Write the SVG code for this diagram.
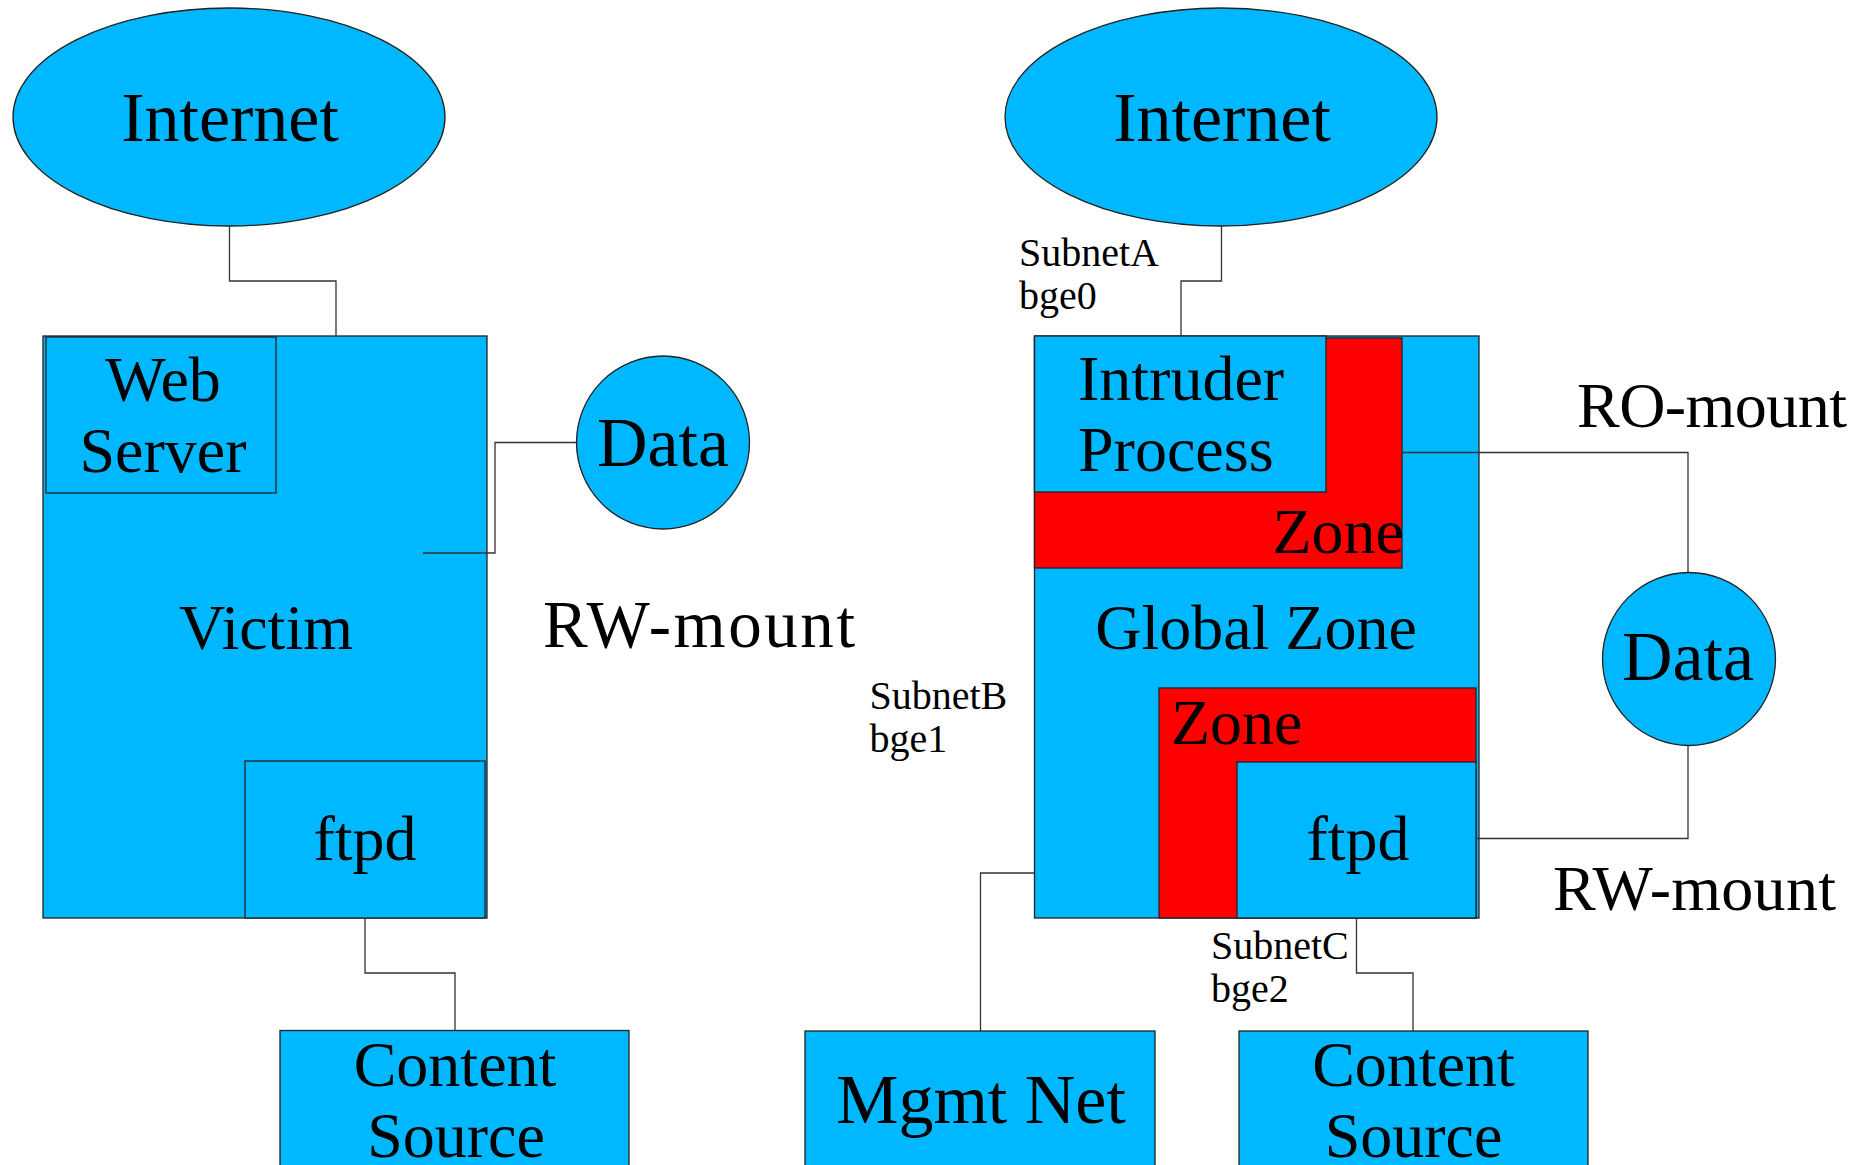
<svg xmlns="http://www.w3.org/2000/svg" width="1861" height="1165" viewBox="0 0 1861 1165">
<style>
.b{fill:#00b8ff;stroke:#222;stroke-width:1.3}
.r{fill:#ff0000;stroke:#222;stroke-width:1.3}
.c{fill:none;stroke:#333;stroke-width:1.3}
text{font-family:"Liberation Serif","Times New Roman",serif;fill:#000}
.L{font-size:70px}
.M{font-size:64px}
.S{font-size:40px}
.m{text-anchor:middle}
</style>
<rect width="1861" height="1165" fill="#fff"/>
<g id="internet-left"><ellipse class="b" cx="229" cy="117" rx="216" ry="109"/><text class="L m" x="230" y="141">Internet</text></g>
<g id="victim"><rect class="b" x="43" y="336" width="444" height="582"/><text class="M m" x="266" y="649">Victim</text></g>
<g id="webserver"><rect class="b" x="46" y="337" width="230" height="156"/><text class="M m" x="163" y="401">Web</text><text class="M m" x="163" y="472">Server</text></g>
<g id="ftpd-left"><rect class="b" x="245" y="761" width="240" height="157"/><text class="M m" x="365" y="860">ftpd</text></g>
<g id="data-left"><circle class="b" cx="663" cy="442.5" r="86.5"/><text class="L m" x="663" y="466">Data</text></g>
<g id="rw-left"><text x="543" y="647" font-size="67" textLength="312" lengthAdjust="spacing">RW-mount</text></g>
<g id="content-left"><rect class="b" x="280" y="1030.5" width="349" height="150"/><text class="M m" x="455" y="1086">Content</text><text class="M m" x="456" y="1157">Source</text></g>
<g id="internet-right"><ellipse class="b" cx="1221" cy="117" rx="216" ry="109"/><text class="L m" x="1222" y="141">Internet</text></g>
<g id="subnetA"><text class="S" x="1019" y="266">SubnetA</text><text class="S" x="1019" y="309">bge0</text></g>
<g id="global-zone"><rect class="b" x="1034.5" y="336" width="444.5" height="582"/><text class="M m" x="1256" y="649">Global Zone</text></g>
<g id="zone-top"><rect class="r" x="1034.5" y="338" width="367.5" height="230"/><text class="M" x="1272.5" y="553">Zone</text></g>
<g id="intruder"><rect class="b" x="1034.5" y="336" width="291.5" height="156"/><text class="M" x="1078" y="400">Intruder</text><text class="M" x="1078" y="471">Process</text></g>
<g id="zone-bottom"><rect class="r" x="1159" y="688" width="317" height="230"/><text class="M" x="1171" y="744">Zone</text></g>
<g id="ftpd-right"><rect class="b" x="1237" y="762" width="239" height="156"/><text class="M m" x="1358" y="860">ftpd</text></g>
<g id="ro-mount"><text class="M" x="1577" y="427" textLength="270" lengthAdjust="spacing">RO-mount</text></g>
<g id="data-right"><circle class="b" cx="1689" cy="659" r="86.5"/><text class="L m" x="1688" y="680">Data</text></g>
<g id="rw-right"><text class="M" x="1553" y="910" textLength="283" lengthAdjust="spacing">RW-mount</text></g>
<g id="subnetB"><text class="S" x="869.5" y="709">SubnetB</text><text class="S" x="869.5" y="752">bge1</text></g>
<g id="subnetC"><text class="S" x="1211" y="959">SubnetC</text><text class="S" x="1211" y="1002">bge2</text></g>
<g id="mgmt"><rect class="b" x="805" y="1031" width="350" height="150"/><text class="L m" x="981" y="1123">Mgmt Net</text></g>
<g id="content-right"><rect class="b" x="1239" y="1031" width="349" height="150"/><text class="M m" x="1413.5" y="1086">Content</text><text class="M m" x="1413.5" y="1157">Source</text></g>
<g id="connectors">
<polyline class="c" points="229.5,226 229.5,281 336,281 336,336"/>
<polyline class="c" points="576.5,442.5 495,442.5 495,553 423,553"/>
<polyline class="c" points="365,918 365,973 455,973 455,1031"/>
<polyline class="c" points="1221.5,226 1221.5,281 1181,281 1181,336"/>
<polyline class="c" points="1402,452.5 1688,452.5 1688,572.5"/>
<polyline class="c" points="1476,838.5 1688,838.5 1688,745.5"/>
<polyline class="c" points="1034.5,873 980.5,873 980.5,1031"/>
<polyline class="c" points="1356.5,918 1356.5,973 1413,973 1413,1031"/>
</g>
</svg>
